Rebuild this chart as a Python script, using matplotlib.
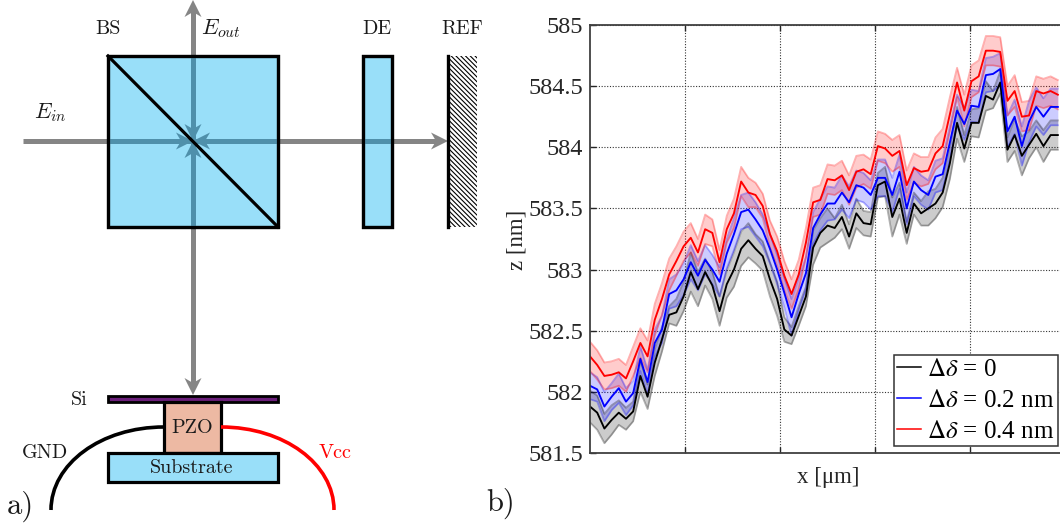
import numpy as np
import matplotlib
matplotlib.use("Agg")
import matplotlib.pyplot as plt
from matplotlib.patches import Rectangle, PathPatch, Polygon
from matplotlib.path import Path

plt.rcParams['mathtext.fontset'] = 'stix'
plt.rcParams['hatch.linewidth'] = 0.8

# --- Data ---
z_black = [581.88, 581.83, 581.70, 581.77, 581.83, 581.78, 581.84, 582.13, 581.96, 582.24, 582.43,
           582.63, 582.65, 582.78, 582.98, 582.84, 582.98, 582.87, 582.66, 582.88, 583.00, 583.17,
           583.24, 583.17, 583.11, 582.92, 582.76, 582.51, 582.46, 582.62, 582.78, 583.18, 583.30,
           583.36, 583.34, 583.43, 583.27, 583.46, 583.38, 583.37, 583.69, 583.72, 583.43, 583.58,
           583.30, 583.54, 583.46, 583.50, 583.54, 583.63, 583.87, 584.20, 583.99, 584.20, 584.20,
           584.42, 584.39, 584.53, 583.98, 584.10, 583.93, 584.02, 584.11, 584.01, 584.10, 584.10]
z_blue = [582.05, 582.02, 581.88, 581.96, 582.03, 581.92, 581.99, 582.27, 582.08, 582.40, 582.51,
          582.80, 582.83, 582.92, 583.06, 582.95, 583.08, 583.00, 582.90, 583.13, 583.29, 583.47,
          583.49, 583.41, 583.32, 583.17, 583.00, 582.81, 582.61, 582.80, 582.97, 583.34, 583.45,
          583.54, 583.54, 583.63, 583.55, 583.69, 583.67, 583.61, 583.75, 583.75, 583.61, 583.80,
          583.50, 583.72, 583.65, 583.61, 583.76, 583.78, 584.04, 584.30, 584.19, 584.34, 584.33,
          584.59, 584.60, 584.64, 584.13, 584.25, 584.01, 584.21, 584.33, 584.25, 584.33, 584.33]
z_red = [582.29, 582.22, 582.13, 582.14, 582.16, 582.11, 582.25, 582.40, 582.29, 582.59, 582.76,
         582.96, 583.07, 583.19, 583.26, 583.14, 583.33, 583.30, 583.06, 583.33, 583.46, 583.72,
         583.63, 583.61, 583.52, 583.29, 583.15, 582.95, 582.80, 582.96, 583.22, 583.55, 583.57,
         583.74, 583.73, 583.77, 583.65, 583.80, 583.82, 583.78, 584.01, 583.99, 583.93, 583.97,
         583.69, 583.83, 583.80, 583.81, 583.95, 584.01, 584.27, 584.53, 584.30, 584.54, 584.58,
         584.79, 584.79, 584.78, 584.38, 584.46, 584.25, 584.26, 584.46, 584.44, 584.46, 584.43]

# half width of the shaded bands
err_black = [.13, .14, .12, .12, .10, .09, .08, .13, .10, .11, .10, .07, .11, .12, .16, .14, .11, .11, .12, .11, .14, .14,
             .14, .12, .12, .14, .14, .10, .07, .08, .08, .14, .12, .14, .08, .10, .10, .12, .10, .10, .10, .12, .16, .13,
             .09, .09, .10, .14, .12, .12, .13, .13, .11, .11, .12, .12, .07, .09, .10, .13, .16, .11, .11, .13, .12, .12]
err_blue = [.11, .10, .12, .11, .12, .11, .10, .10, .10, .11, .11, .12, .13, .13, .14, .12, .12, .12, .12, .12, .13, .14,
            .14, .14, .13, .12, .12, .12, .15, .13, .13, .13, .13, .14, .13, .14, .13, .12, .12, .12, .15, .15, .14, .14,
            .13, .12, .12, .12, .13, .13, .13, .13, .13, .13, .13, .14, .14, .13, .13, .14, .16, .17, .16, .15, .15, .15]
err_red = [.12, .12, .11, .11, .11, .11, .12, .12, .13, .13, .13, .13, .12, .12, .12, .11, .12, .11, .10, .11, .12, .12,
           .12, .10, .10, .11, .12, .12, .12, .12, .12, .12, .12, .12, .12, .12, .12, .13, .12, .12, .12, .12, .13, .13,
           .12, .12, .12, .11, .13, .14, .14, .12, .13, .13, .13, .12, .12, .12, .12, .13, .12, .12, .12, .12, .12, .12]

x_pos = np.arange(len(z_black))
x_ticks = [13.2, 26.4, 39.6, 52.8]
y_ticks = [581.5, 582, 582.5, 583, 583.5, 584, 584.5, 585]
y_labels = ['581.5', '582', '582.5', '583', '583.5', '584', '584.5', '585']
legend_labels = [r'$\Delta\delta$ = 0', r'$\Delta\delta$ = 0.2 nm', r'$\Delta\delta$ = 0.4 nm']

W, H = 1060, 524
SERIF = 'Liberation Serif'
CM = 'cmr10'
BLUE_BOX = '#99dff9'
BEAM = '#858585'
BEAM_IN = '#4f90ab'

fig = plt.figure(figsize=(W / 100, H / 100), dpi=100)

# --- b) measurement plot ---
ax = fig.add_axes([590 / W, 1 - 453 / H, 470 / W, 428 / H])
for z, err, col in zip([z_black, z_blue, z_red], [err_black, err_blue, err_red], ['black', 'blue', 'red']):
    z, err = np.array(z), np.array(err)
    ax.fill_between(x_pos, z - err, z + err, color=col, alpha=0.2, lw=0)
    ax.plot(x_pos, z - err, color=col, alpha=0.3, lw=1.3)
    ax.plot(x_pos, z + err, color=col, alpha=0.3, lw=1.3)
lines = []
for z, col in zip([z_black, z_blue, z_red], ['black', 'blue', 'red']):
    lines.append(ax.plot(x_pos, z, color=col, lw=1.35)[0])

ax.set_xlim(0, 65.3)
ax.set_ylim(581.5, 585)
ax.set_xticks(x_ticks)
ax.set_xticklabels([])
ax.set_yticks(y_ticks)
ax.set_yticklabels(y_labels, fontfamily=SERIF, fontsize=17.5, color='#262626')
ax.tick_params(direction='in', length=4, width=1, color='#262626', top=True, right=False, pad=5)
ax.grid(True, color='#333333', lw=0.8, linestyle=(0, (1, 1.5)))
ax.set_axisbelow(True)
ax.spines['right'].set_visible(False)
for side in ['left', 'bottom', 'top']:
    ax.spines[side].set_color('#404040')
    ax.spines[side].set_linewidth(1.3)

leg = ax.legend(lines, legend_labels, loc='lower right', bbox_to_anchor=(468 / 470, 7 / 428),
                borderaxespad=0, fancybox=False, framealpha=1, edgecolor='#333333',
                prop={'family': SERIF, 'size': 18}, handlelength=0.95, handletextpad=0.25,
                labelspacing=0.33, borderpad=0.14)
leg.get_frame().set_linewidth(1.1)
for h in leg.get_lines():
    h.set_linewidth(1.1)

fig.text(828 / W, 1 - 478 / H, 'x [μm]', family=SERIF, fontsize=16.5, color='#262626', ha='center', va='center')
fig.text(517 / W, 1 - 240 / H, 'z [nm]', family=SERIF, fontsize=16.5, color='#262626', ha='center', va='center', rotation=90)

# --- a) schematic, drawn in pixel coordinates ---
sk = fig.add_axes([0, 0, 1, 1], zorder=3)
sk.set_xlim(0, W)
sk.set_ylim(H, 0)
sk.axis('off')


def box(x0, y0, x1, y1, fc, lw=2.3, z=2):
    r = Rectangle((x0, y0), x1 - x0, y1 - y0, fc=fc, ec='black', lw=lw, zorder=z)
    sk.add_patch(r)
    return r


def arrow_head(tip, d, col, z, clip=None):
    # notched head, d is the unit direction of travel
    tx, ty = tip
    dx, dy = d
    nx, ny = -dy, dx
    pts = [(tx, ty),
           (tx - 17 * dx + 8.5 * nx, ty - 17 * dy + 8.5 * ny),
           (tx - 12 * dx, ty - 12 * dy),
           (tx - 17 * dx - 8.5 * nx, ty - 17 * dy - 8.5 * ny)]
    p = Polygon(pts, closed=True, fc=col, ec='none', zorder=z)
    sk.add_patch(p)
    if clip is not None:
        p.set_clip_path(clip)


def beams(col, z, clip=None):
    for seg in [((23, 141), (438, 141)), ((193, 8), (193, 385))]:
        l, = sk.plot(*zip(*seg), color=col, lw=3.6, solid_capstyle='butt', zorder=z)
        if clip is not None:
            l.set_clip_path(clip)
    heads = [((448, 141), (1, 0)), ((193, 0), (0, -1)), ((193, 395), (0, 1)),
             ((193, 141), (1, 0)), ((193, 141), (-1, 0)), ((193, 141), (0, 1)), ((193, 141), (0, -1))]
    for tip, d in heads:
        arrow_head(tip, d, col, z, clip)


beams(BEAM, 1)
bs = box(108, 56, 278, 227, BLUE_BOX)
de = box(363, 56, 392, 227, BLUE_BOX)
beams(BEAM_IN, 3, bs)
for_de, = sk.plot([363, 392], [141, 141], color=BEAM_IN, lw=3.6, solid_capstyle='butt', zorder=3)
for_de.set_clip_path(de)
# borders again, on top of the overlaid beams
sk.add_patch(Rectangle((108, 56), 170, 171, fc='none', ec='black', lw=2.3, zorder=5))
sk.add_patch(Rectangle((363, 56), 29, 171, fc='none', ec='black', lw=2.3, zorder=5))
sk.plot([108, 278], [56, 227], color='black', lw=2.3, zorder=5)

# reference mirror
sk.add_patch(Rectangle((448, 56), 29, 171, fc='white', ec='black', hatch='\\\\\\\\\\\\\\', lw=0, zorder=2))
sk.plot([448, 448], [56, 227], color='black', lw=2.4, zorder=5)

# sample stack
box(108, 396, 278, 402, '#6b1f7a', lw=2)
box(164, 402, 221, 453, '#edb9a3', lw=2.3)
box(108, 453, 278, 482, BLUE_BOX, lw=2.3)

gnd = Path([(51, 510), (51, 464), (101, 427), (164, 427)], [Path.MOVETO, Path.CURVE4, Path.CURVE4, Path.CURVE4])
vcc = Path([(221, 427), (284, 427), (334, 464), (334, 510)], [Path.MOVETO, Path.CURVE4, Path.CURVE4, Path.CURVE4])
sk.add_patch(PathPatch(gnd, fc='none', ec='black', lw=2.6, capstyle='butt', zorder=2))
sk.add_patch(PathPatch(vcc, fc='none', ec='red', lw=2.6, capstyle='butt', zorder=2))


def label(x, y, s, fs=14.5, col='#1a1a1a', fam=CM):
    sk.text(x, y, s, family=fam, fontsize=fs, color=col, ha='center', va='center', zorder=6)


label(108, 29, 'BS')
label(377, 29, 'DE')
label(462, 29, 'REF')
label(79, 400, 'Si')
label(192, 428, 'PZO')
label(192, 468, 'Substrate')
label(45, 453, 'GND')
label(335, 453, 'Vcc', col='red')
plt.rcParams['mathtext.fontset'] = 'cm'
label(221, 29, r'$E_{out}$', fs=16)
label(50, 113, r'$E_{in}$', fs=16)
label(20, 506, 'a)', fs=22)
label(501, 503, 'b)', fs=22)

fig.savefig('out.png', dpi=100)
